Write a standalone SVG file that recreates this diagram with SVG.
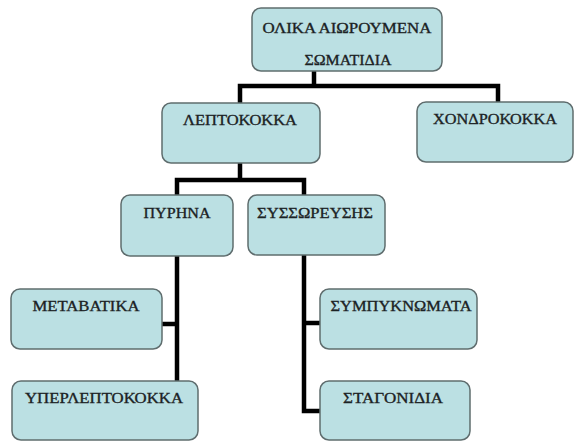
<svg xmlns="http://www.w3.org/2000/svg" width="574" height="441" viewBox="0 0 574 441">
<style>
.box{fill:#bbe0e3;stroke:#5f6d6e;stroke-width:1.5}
.lbl{font-family:"Liberation Serif","Times New Roman",serif;font-size:15.5px;fill:#1b2224;text-anchor:middle;stroke:#1b2224;stroke-width:0.35}
.con{fill:none;stroke:#000;stroke-width:4.5;stroke-linejoin:miter;stroke-linecap:butt}
</style>
<rect width="574" height="441" fill="#fff"/>
<g id="connectors">
<path class="con" d="M314 71 V86"/>
<path class="con" d="M240 103 V86 H498 V102"/>
<path class="con" d="M240 163 V180"/>
<path class="con" d="M177 195 V180 H304 V195"/>
<path class="con" d="M177 256 V381"/>
<path class="con" d="M162 324 H177" stroke-width="6"/>
<path class="con" d="M304 255 V411 H320"/>
<path class="con" d="M304 323 H320" stroke-width="6"/>
</g>
<g id="root"><rect class="box" x="252" y="8" width="190" height="63" rx="9"/><text class="lbl" x="347" y="33" textLength="169" lengthAdjust="spacingAndGlyphs">ΟΛΙΚΑ ΑΙΩΡΟΥΜΕΝΑ</text><text class="lbl" x="348" y="65" textLength="87" lengthAdjust="spacingAndGlyphs">ΣΩΜΑΤΙΔΙΑ</text></g>
<g id="leptokokka"><rect class="box" x="162" y="103" width="158" height="60" rx="9"/><text class="lbl" x="240" y="125" textLength="114" lengthAdjust="spacingAndGlyphs">ΛΕΠΤΟΚΟΚΚΑ</text></g>
<g id="chondrokokka"><rect class="box" x="417" y="102" width="156" height="60" rx="9"/><text class="lbl" x="495" y="124" textLength="124" lengthAdjust="spacingAndGlyphs">ΧΟΝΔΡΟΚΟΚΚΑ</text></g>
<g id="pyrhna"><rect class="box" x="121" y="195" width="112" height="61" rx="9"/><text class="lbl" x="177" y="218" textLength="67" lengthAdjust="spacingAndGlyphs">ΠΥΡΗΝΑ</text></g>
<g id="syssoreysis"><rect class="box" x="248" y="195" width="137" height="60" rx="9"/><text class="lbl" x="315" y="218" textLength="116" lengthAdjust="spacingAndGlyphs">ΣΥΣΣΩΡΕΥΣΗΣ</text></g>
<g id="metavatika"><rect class="box" x="11" y="289" width="151" height="60" rx="9"/><text class="lbl" x="86" y="311" textLength="107" lengthAdjust="spacingAndGlyphs">ΜΕΤΑΒΑΤΙΚΑ</text></g>
<g id="yperleptokokka"><rect class="box" x="12" y="381" width="186" height="59" rx="9"/><text class="lbl" x="104" y="403" textLength="158" lengthAdjust="spacingAndGlyphs">ΥΠΕΡΛΕΠΤΟΚΟΚΚΑ</text></g>
<g id="sympyknomata"><rect class="box" x="320" y="289" width="157" height="60" rx="9"/><text class="lbl" x="401" y="311" textLength="141" lengthAdjust="spacingAndGlyphs">ΣΥΜΠΥΚΝΩΜΑΤΑ</text></g>
<g id="stagonidia"><rect class="box" x="320" y="381" width="150" height="59" rx="9"/><text class="lbl" x="393" y="403" textLength="100" lengthAdjust="spacingAndGlyphs">ΣΤΑΓΟΝΙΔΙΑ</text></g>
</svg>
